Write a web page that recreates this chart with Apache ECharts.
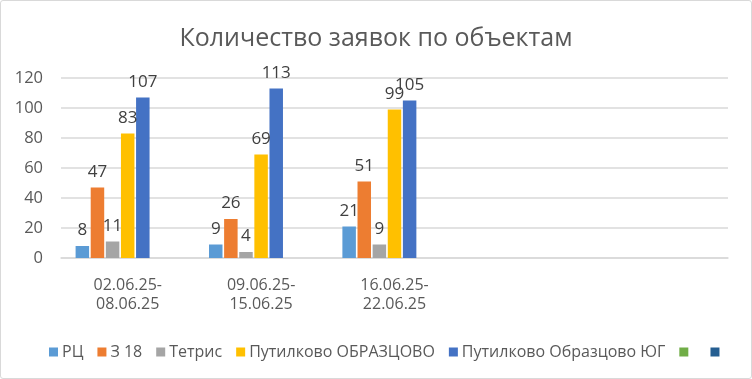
<!DOCTYPE html>
<html>
<head>
<meta charset="utf-8">
<script src="https://cdn.jsdelivr.net/npm/echarts@6/dist/echarts.min.js"></script>
<style>
html,body{margin:0;padding:0;background:#fff;}
#c{position:absolute;left:0;top:0;width:750px;height:377px;border:1px solid #d9d9d9;border-radius:3px;}
</style>
</head>
<body>
<div id="c"></div>
<script>
const titleText = 'Количество заявок по объектам';
const categories = ['02.06.25-\n08.06.25', '09.06.25-\n15.06.25', '16.06.25-\n22.06.25', '', ''];
const seriesNames = ['РЦ', 'З 18', 'Тетрис', 'Путилково ОБРАЗЦОВО', 'Путилково Образцово ЮГ', ' ', '  '];
const rc = [8, 9, 21, null, null];
const z18 = [47, 26, 51, null, null];
const tetris = [11, 4, 9, null, null];
const putObr = [83, 69, 99, null, null];
const putYug = [107, 113, 105, null, null];
const empty1 = [null, null, null, null, null];
const empty2 = [null, null, null, null, null];
const yTicks = {min: 0, max: 120, interval: 20};

const colors = ['#5B9BD5', '#ED7D31', '#A5A5A5', '#FFC000', '#4472C4', '#70AD47', '#255E91'];
const allData = [rc, z18, tetris, putObr, putYug, empty1, empty2];
const font = 'Open Sans';

const chart = echarts.init(document.getElementById('c'));
chart.setOption({
  animation: false,
  color: colors,
  title: {
    text: titleText, left: 'center', top: 20,
    textStyle: {fontFamily: font, fontSize: 25, fontWeight: 'normal', color: '#595959'}
  },
  legend: {
    data: seriesNames, left: 43, top: 338, itemWidth: 9, itemHeight: 9, itemGap: 14,
    icon: 'rect',
    textStyle: {fontFamily: font, fontSize: 16, color: '#595959', padding: [0, 0, 0, -1]}
  },
  grid: {left: 60, right: 23, top: 77, bottom: 120},
  xAxis: {
    type: 'category', data: categories,
    axisLine: {show: true, lineStyle: {color: '#d9d9d9', width: 1.5}},
    axisTick: {show: false},
    axisLabel: {fontFamily: font, fontSize: 16, color: '#595959', margin: 18, lineHeight: 19}
  },
  yAxis: {
    type: 'value', min: yTicks.min, max: yTicks.max, interval: yTicks.interval,
    axisLine: {show: false}, axisTick: {show: false},
    axisLabel: {fontFamily: font, fontSize: 16.5, color: '#595959', margin: 18},
    splitLine: {lineStyle: {color: '#d9d9d9', width: 1.5}}
  },
  series: seriesNames.map((n, i) => ({
    name: n, type: 'bar', data: allData[i], barWidth: 13.5, barGap: '12%',
    label: {show: true, position: 'top', distance: 7, fontFamily: font, fontSize: 17, color: '#404040'}
  }))
});
</script>
</body>
</html>
